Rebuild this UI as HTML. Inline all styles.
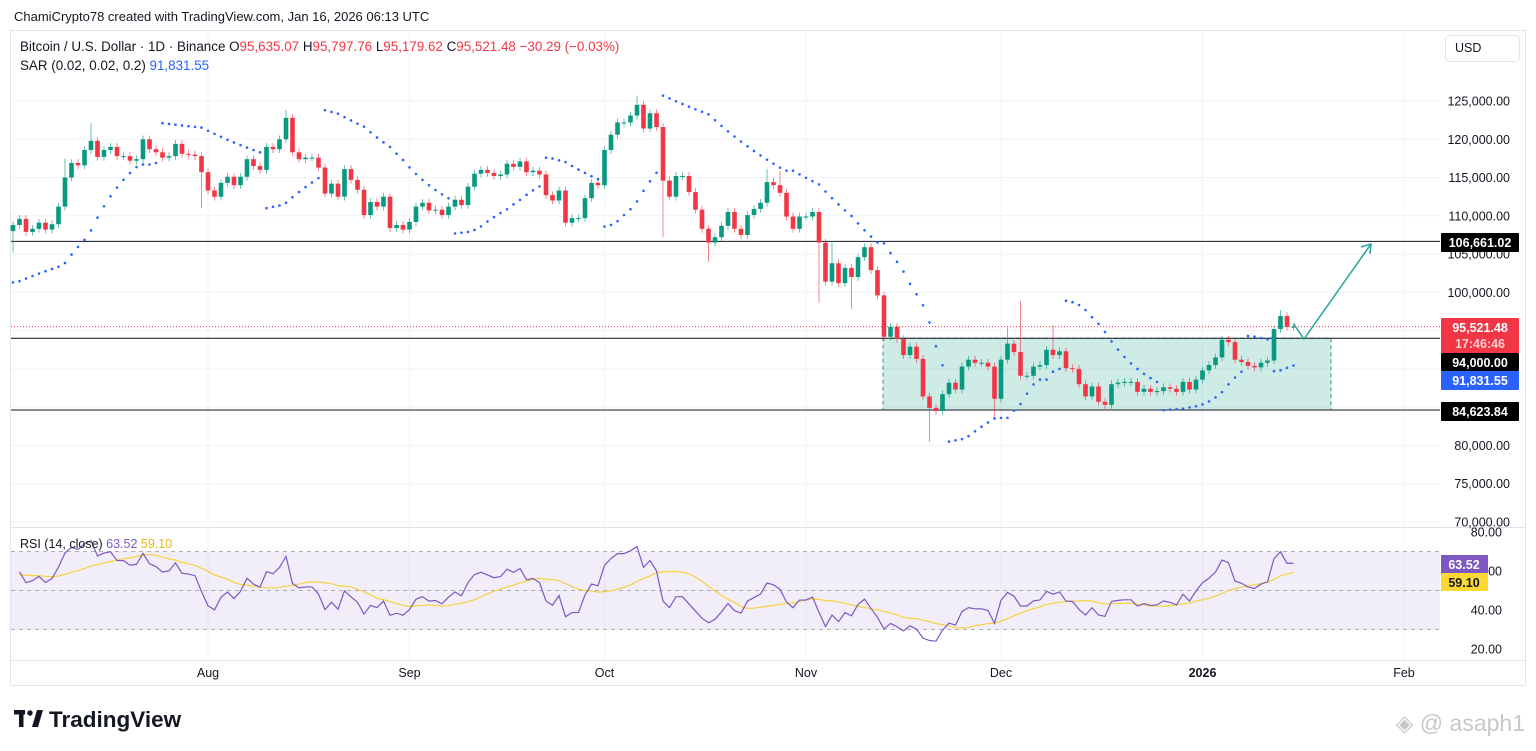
<!DOCTYPE html>
<html><head><meta charset="utf-8">
<style>
body{margin:0;background:#fff;font-family:"Liberation Sans",sans-serif;}
svg{display:block}
text{font-family:"Liberation Sans",sans-serif;}
</style></head>
<body>
<svg id="c" width="1536" height="751" viewBox="0 0 1536 751" xmlns="http://www.w3.org/2000/svg">
<rect x="0" y="0" width="1536" height="751" fill="#fff"/>
<text x="14" y="21" font-size="13" fill="#131722">ChamiCrypto78 created with TradingView.com, Jan 16, 2026 06:13 UTC</text>
<rect x="10.5" y="30.5" width="1515" height="655" fill="none" stroke="#e0e3eb"/>
<g id="grid"></g>
<g id="zone"></g>
<g id="candles"></g>
<g id="sar"></g>
<g id="rsi"></g>
<g id="draw"></g>
<g id="axis"></g>
<text x="20" y="51" font-size="13.4" fill="#131722">Bitcoin / U.S. Dollar · 1D · Binance  <tspan>O</tspan><tspan fill="#f23645">95,635.07</tspan>  <tspan>H</tspan><tspan fill="#f23645">95,797.76</tspan>  <tspan>L</tspan><tspan fill="#f23645">95,179.62</tspan>  <tspan>C</tspan><tspan fill="#f23645">95,521.48</tspan>  <tspan fill="#f23645">−30.29 (−0.03%)</tspan></text>
<text x="20" y="70" font-size="13.4" fill="#131722">SAR (0.02, 0.02, 0.2)  <tspan fill="#2962ff">91,831.55</tspan></text>
<text x="20" y="548" font-size="12.5" fill="#131722">RSI (14, close) <tspan fill="#7e57c2">63.52</tspan> <tspan fill="#e0b81c">59.10</tspan></text>
<rect x="1445.5" y="35.5" width="74" height="26" rx="4" fill="#fff" stroke="#e0e3eb"/>
<text x="1455" y="52" font-size="12.5" fill="#131722">USD</text>
<g>
<rect x="14" y="710" width="11" height="4.5" fill="#131722"/><rect x="19" y="710" width="4.5" height="17" fill="#131722"/>
<circle cx="30" cy="713" r="2.7" fill="#131722"/><polygon points="32,727 37,710 43,710 38,727" fill="#131722"/>
<text x="49" y="727" font-size="22.5" font-weight="bold" fill="#131722">TradingView</text>
</g>
<text x="1525" y="731" font-size="23" fill="#c8c8c8" text-anchor="end">◈ @ asaph1</text>
</svg>
<script>
const closes=[108.8,109.6,107.9,108.3,109.1,108.2,108.9,111.2,115.0,116.9,116.6,118.6,119.8,117.7,118.6,119.0,117.8,117.8,117.2,117.4,120.0,118.7,118.3,117.6,117.8,119.4,118.1,118.0,117.8,115.7,113.3,112.5,114.3,115.1,114.0,115.1,117.4,116.5,116.0,119.0,118.7,120.0,122.8,118.3,117.4,117.6,117.6,116.3,112.9,114.2,112.5,116.1,114.7,113.4,
110.1,111.8,111.2,112.5,108.4,108.8,108.2,109.2,111.2,111.7,110.7,110.8,110.1,111.2,112.1,111.4,113.8,115.5,116.0,115.6,115.2,115.4,116.8,116.4,117.1,115.7,115.9,115.4,112.7,112.0,113.3,109.1,109.7,109.7,112.3,114.3,114.0,118.6,120.6,122.2,122.2,123.1,124.5,121.4,123.4,121.6,114.6,112.5,115.2,115.2,113.1,110.8,108.3,106.5,
107.2,108.7,110.5,108.3,107.5,110.1,110.9,111.7,114.4,114.0,113.0,109.9,108.3,109.9,109.9,110.5,106.5,101.4,103.8,101.2,103.2,102.0,104.6,105.9,102.9,99.6,
94.2,95.5,93.9,91.8,92.9,91.3,86.4,84.9,84.5,86.7,88.2,87.3,90.3,91.2,90.8,90.8,90.3,86.1,91.2,93.3,92.2,89.1,89.1,90.3,90.5,92.5,91.8,92.3,90.1,90.0,88.0,86.4,87.7,85.7,85.3,88.0,88.2,88.3,88.3,87.0,87.4,87.0,87.1,87.6,87.4,87.0,88.3,87.3,88.6,89.8,90.5,91.5,93.8,93.5,91.2,90.9,90.4,90.2,90.8,91.1,95.2,96.9,95.5,95.52];
const firstOpen=108.0;
const highIdx=[8,12,42,96,116,118,126,153,155,160,195];
const highVal=[117.5,122.1,123.8,125.7,116.1,115.9,106.5,95.4,98.9,95.8,97.7];
const lowIdx=[0,29,100,107,124,129,141,151,168];
const lowVal=[105.2,111.0,107.2,104.0,98.6,97.8,80.5,83.6,84.6];
const priceTicks=[125000,120000,115000,110000,105000,100000,80000,75000,70000];
const rsiTicks=[80,60,40,20];
const timeLabels=["Aug","Sep","Oct","Nov","Dec","2026","Feb"];
const timeDay=[30,61,91,122,152,183,214];
const levels=[106661.02,94000,84623.84];
const sarStart=101.3;
const rsiSeedGain=0.75, rsiSeedLoss=0.55, rsiMaSeed=58;

const NS="http://www.w3.org/2000/svg";
function mk(p,t,a){const e=document.createElementNS(NS,t);for(const k in a)e.setAttribute(k,a[k]);p.appendChild(e);return e;}
const X=i=>13+i*6.5;
const Y=p=>101+(125-p)/5*38.27;
const YR=v=>532+(80-v)*1.95;
const N=closes.length;
const opens=closes.map((c,i)=>i?closes[i-1]:firstOpen);
const highs=closes.map((c,i)=>Math.max(c,opens[i])+0.5);
const lows=closes.map((c,i)=>Math.min(c,opens[i])-0.5);
highIdx.forEach((k,j)=>{if(k<N)highs[k]=highVal[j];});
lowIdx.forEach((k,j)=>{if(k<N)lows[k]=lowVal[j];});

const grid=document.getElementById('grid');
for(let p=70;p<=125;p+=5){const l=mk(grid,'line',{x1:11,x2:1440,y1:Y(p),y2:Y(p),stroke:'#f2f3f6'});}
timeDay.forEach(d=>{const x=13+d*6.5;const l=mk(grid,'line',{x1:x,x2:x,y1:31,y2:660,stroke:'#f2f3f6'});});
mk(grid,'line',{x1:11,x2:1525,y1:527.5,y2:527.5,stroke:'#e0e3eb'});
mk(grid,'line',{x1:11,x2:1525,y1:660.5,y2:660.5,stroke:'#e0e3eb'});

const zone=document.getElementById('zone');
const zr=mk(zone,'rect',{x:883,y:Y(94),width:448,height:Y(84.62384)-Y(94),fill:'rgba(8,153,129,0.2)',stroke:'#4a8f80','stroke-dasharray':'4,3'});

levels.forEach(v=>{const l=mk(zone,'line',{x1:11,x2:1440,y1:Y(v/1000),y2:Y(v/1000),stroke:'#131722','stroke-width':1});});
const cp=mk(zone,'line',{x1:11,x2:1440,y1:Y(closes[N-1]),y2:Y(closes[N-1]),stroke:'#f23645','stroke-dasharray':'1,2','stroke-width':1});


const cg=document.getElementById('candles');
for(let i=0;i<N;i++){
  const up=closes[i]>=opens[i];const col=up?'#089981':'#f23645';
  const g=mk(cg,'g',{});
  
  
  mk(g,'line',{x1:X(i),x2:X(i),y1:Y(highs[i]),y2:Y(lows[i]),stroke:col,'stroke-opacity':0.6,'stroke-width':1});
  const t=Y(Math.max(opens[i],closes[i])),b=Y(Math.min(opens[i],closes[i]));
  mk(g,'rect',{x:X(i)-2.3,y:t,width:4.6,height:Math.max(1,b-t),fill:col});
}

const sg=document.getElementById('sar');
let up=true,af=0.02,ep=highs[0],sar=sarStart;const sarv=[sar];
for(let i=1;i<N;i++){
  sar=sar+af*(ep-sar);
  if(up){sar=Math.min(sar,lows[i-1],i>1?lows[i-2]:lows[i-1]);
    if(lows[i]<sar){up=false;sar=ep;ep=lows[i];af=0.02;}
    else if(highs[i]>ep){ep=highs[i];af=Math.min(0.2,af+0.02);}
  }else{sar=Math.max(sar,highs[i-1],i>1?highs[i-2]:highs[i-1]);
    if(highs[i]>sar){up=true;sar=ep;ep=highs[i];af=0.02;}
    else if(lows[i]<ep){ep=lows[i];af=Math.min(0.2,af+0.02);}
  }
  sarv.push(sar);
}
sarv.forEach((s,i)=>{const d=mk(sg,'circle',{cx:X(i),cy:Y(s),r:1.3,fill:'#2962ff'});});

const rg=document.getElementById('rsi');
mk(rg,'rect',{x:11,y:YR(70),width:1429,height:YR(30)-YR(70),fill:'rgba(126,87,194,0.1)'});
[70,50,30].forEach(v=>mk(rg,'line',{x1:11,x2:1440,y1:YR(v),y2:YR(v),stroke:'#9598a1','stroke-dasharray':'4,4','stroke-width':0.8}));
let ag=rsiSeedGain,al=rsiSeedLoss;const rsi=[];
for(let i=1;i<N;i++){const ch=closes[i]-closes[i-1];const g=Math.max(ch,0),l=Math.max(-ch,0);
  ag=(ag*13+g)/14;al=(al*13+l)/14;
  rsi.push([i,al===0?100:100-100/(1+ag/al)]);}
const ma=rsi.map((r,j)=>{let s=0;for(let k=j-13;k<=j;k++)s+=k>=0?rsi[k][1]:rsiMaSeed;return [r[0],s/14];});
const mp=mk(rg,'polyline',{points:ma.map(r=>X(r[0])+','+YR(r[1])).join(' '),fill:'none',stroke:'#f7d23e','stroke-width':1.2});

const rp=mk(rg,'polyline',{points:rsi.map(r=>X(r[0])+','+YR(r[1])).join(' '),fill:'none',stroke:'#7e57c2','stroke-width':1.2});


const dg=document.getElementById('draw');
const ar=mk(dg,'polyline',{points:`${X(N-1)},${Y(closes[N-1])-3} 1304,339 1371,244`,fill:'none',stroke:'#26a69a','stroke-width':1.5});

mk(dg,'polyline',{points:'1361,247 1371,244 1370,254',fill:'none',stroke:'#26a69a','stroke-width':1.5});

const ax=document.getElementById('axis');
priceTicks.forEach(p=>{const t=mk(ax,'text',{x:1510,y:Y(p/1000)+4.5,'font-size':12.5,fill:'#131722','text-anchor':'end'});t.textContent=p.toLocaleString('en-US')+'.00';});
rsiTicks.forEach(v=>{const t=mk(ax,'text',{x:1502,y:YR(v)+4.5,'font-size':12.5,fill:'#131722','text-anchor':'end'});t.textContent=v.toFixed(2);});
timeLabels.forEach((s,i)=>{const t=mk(ax,'text',{x:13+timeDay[i]*6.5,y:677,'font-size':12.5,fill:'#131722','text-anchor':'middle','font-weight':s==='2026'?'bold':'normal'});t.textContent=s;});
function label(y,h,bg,fg,txt,name){const g=mk(ax,'g',{});
  mk(g,'rect',{x:1441,y:y,width:78,height:h,fill:bg,rx:1});
  txt.forEach((s,k)=>{const t=mk(g,'text',{x:1480,y:y+14+k*16,'font-size':12.5,fill:k?'#ffd0d4':fg,'text-anchor':'middle','font-weight':'bold'});t.textContent=s;});}
label(233,19,'#000','#fff',['106,661.02'],'level-label-top');
label(318,35,'#f23645','#fff',['95,521.48','17:46:46'],'current-price-label');
label(353,18,'#000','#fff',['94,000.00'],'level-label-mid');
label(371,19,'#2962ff','#fff',['91,831.55'],'sar-label');
label(402,19,'#000','#fff',['84,623.84'],'level-label-bottom');
const l1=mk(ax,'g',{});
mk(l1,'rect',{x:1441,y:555,width:47,height:18,fill:'#7e57c2'});
const t1=mk(l1,'text',{x:1464,y:569,'font-size':12.5,fill:'#fff','text-anchor':'middle','font-weight':'bold'});t1.textContent='63.52';
const l2=mk(ax,'g',{});
mk(l2,'rect',{x:1441,y:573,width:47,height:18,fill:'#fdd835'});
const t2=mk(l2,'text',{x:1464,y:587,'font-size':12.5,fill:'#131722','text-anchor':'middle','font-weight':'bold'});t2.textContent='59.10';
</script>
</body></html>
